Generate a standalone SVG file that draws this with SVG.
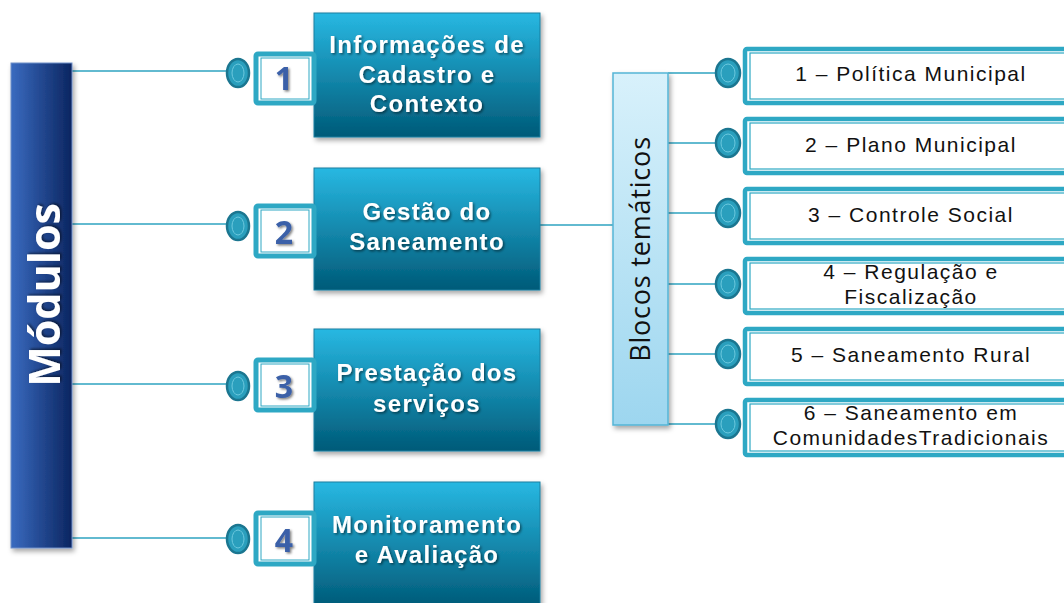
<svg xmlns="http://www.w3.org/2000/svg" width="1064" height="603" viewBox="0 0 1064 603">
<defs>
<linearGradient id="gBar" x1="0" y1="0" x2="1" y2="0"><stop offset="0" stop-color="#3a6bc0"/><stop offset="1" stop-color="#0b2560"/></linearGradient>
<linearGradient id="gMain" x1="0" y1="0" x2="0" y2="1"><stop offset="0" stop-color="#28b8e2"/><stop offset="1" stop-color="#005a78"/></linearGradient>
<linearGradient id="gBlk" x1="0" y1="0" x2="0" y2="1"><stop offset="0" stop-color="#d8f1fb"/><stop offset="1" stop-color="#9dd6ef"/></linearGradient>
<filter id="sh" x="-10%" y="-10%" width="130%" height="130%"><feDropShadow dx="2" dy="3" stdDeviation="2.5" flood-color="#000" flood-opacity="0.35"/></filter>
<filter id="tsh" x="-10%" y="-20%" width="130%" height="150%"><feDropShadow dx="1.5" dy="1.5" stdDeviation="1" flood-color="#000" flood-opacity="0.5"/></filter>
</defs>
<style>
.ln{stroke:#2ea3c0;stroke-width:1.3;fill:none}
.dot{fill:#2a9fbd;stroke:#1b7690;stroke-width:2.5}
.dotin{fill:none;stroke:#6cc8de;stroke-width:1}
.main{fill:url(#gMain);stroke:#1d7fa0;stroke-width:1;filter:url(#sh)}
.mt{font-family:"Liberation Sans",Arial,sans-serif;font-weight:bold;font-size:24px;letter-spacing:1.3px;fill:#fff;text-anchor:middle;filter:url(#tsh)}
.nb{fill:#fff;stroke:#2ea8c4;stroke-width:5}
.nbi{fill:none;stroke:#2ea8c4;stroke-width:1}
.num{font-family:"Open Sans","DejaVu Sans",sans-serif;font-weight:bold;font-size:32px;fill:#3b61a8;text-anchor:middle;filter:url(#tsh)}
.rb{fill:#fff;stroke:#2ea8c4;stroke-width:4.5}
.rbi{fill:none;stroke:#2ea8c4;stroke-width:1.2}
.rt{font-family:"Liberation Sans",Arial,sans-serif;font-size:21px;letter-spacing:1.5px;fill:#111;text-anchor:middle}
</style>
<g id="connectors">
<line class="ln" x1="72" y1="71" x2="226" y2="71"/>
<line class="ln" x1="72" y1="224" x2="226" y2="224"/>
<line class="ln" x1="72" y1="384" x2="226" y2="384"/>
<line class="ln" x1="72" y1="538" x2="226" y2="538"/>
<line class="ln" x1="540" y1="225" x2="613" y2="225"/>
<line class="ln" x1="668" y1="73" x2="716" y2="73"/>
<line class="ln" x1="668" y1="143" x2="716" y2="143"/>
<line class="ln" x1="668" y1="213" x2="716" y2="213"/>
<line class="ln" x1="668" y1="284" x2="716" y2="284"/>
<line class="ln" x1="668" y1="354" x2="716" y2="354"/>
<line class="ln" x1="668" y1="424" x2="716" y2="424"/>
</g>
<g id="modulos">
<rect x="11" y="63" width="61" height="485" fill="url(#gBar)" stroke="#6f8fc8" stroke-width="1" filter="url(#sh)"/>
<text transform="translate(60 295) rotate(-90)" font-family="Open Sans,DejaVu Sans,sans-serif" font-weight="bold" font-size="43" fill="#fff" text-anchor="middle" filter="url(#tsh)">Módulos</text>
</g>
<g id="m1">
<rect class="main" x="314" y="13" width="226" height="124"/>
<text class="mt" x="427" y="53">Informações de</text>
<text class="mt" x="427" y="83">Cadastro e</text>
<text class="mt" x="427" y="112">Contexto</text>
<ellipse class="dot" cx="238" cy="73" rx="11" ry="14"/><ellipse class="dotin" cx="238" cy="73" rx="6" ry="9"/>
<rect class="nb" x="256" y="54" width="58" height="49" rx="2"/><rect class="nbi" x="261" y="58" width="48" height="41"/>
<text class="num" x="284" y="90">1</text>
</g>
<g id="m2">
<rect class="main" x="314" y="168" width="226" height="122"/>
<text class="mt" x="427" y="220">Gestão do</text>
<text class="mt" x="427" y="250">Saneamento</text>
<ellipse class="dot" cx="238" cy="226" rx="11" ry="14"/><ellipse class="dotin" cx="238" cy="226" rx="6" ry="9"/>
<rect class="nb" x="256" y="206" width="58" height="50" rx="2"/><rect class="nbi" x="261" y="210" width="48" height="42"/>
<text class="num" x="284" y="244">2</text>
</g>
<g id="m3">
<rect class="main" x="314" y="329" width="226" height="122"/>
<text class="mt" x="427" y="381">Prestação dos</text>
<text class="mt" x="427" y="412">serviços</text>
<ellipse class="dot" cx="238" cy="386" rx="11" ry="14"/><ellipse class="dotin" cx="238" cy="386" rx="6" ry="9"/>
<rect class="nb" x="256" y="360" width="58" height="50" rx="2"/><rect class="nbi" x="261" y="364" width="48" height="42"/>
<text class="num" x="284" y="398">3</text>
</g>
<g id="m4">
<rect class="main" x="314" y="482" width="226" height="125"/>
<text class="mt" x="427" y="533">Monitoramento</text>
<text class="mt" x="427" y="563">e Avaliação</text>
<ellipse class="dot" cx="238" cy="539" rx="11" ry="14"/><ellipse class="dotin" cx="238" cy="539" rx="6" ry="9"/>
<rect class="nb" x="256" y="513" width="58" height="51" rx="2"/><rect class="nbi" x="261" y="517" width="48" height="43"/>
<text class="num" x="284" y="552">4</text>
</g>
<g id="blocos">
<rect x="613" y="73" width="55" height="352" fill="url(#gBlk)" stroke="#55b5d6" stroke-width="1.5" filter="url(#sh)"/>
<text transform="translate(650 249) rotate(-90)" font-family="Open Sans,DejaVu Sans,sans-serif" font-size="27" letter-spacing="0.8" fill="#111" text-anchor="middle">Blocos temáticos</text>
</g>
<g id="b1">
<ellipse class="dot" cx="728" cy="73" rx="12" ry="14"/><ellipse class="dotin" cx="728" cy="73" rx="7" ry="9"/>
<rect class="rb" x="745" y="49" width="330" height="54" rx="2"/><rect class="rbi" x="750" y="53" width="320" height="46"/>
<text class="rt" x="911" y="81">1 – Política Municipal</text>
</g>
<g id="b2">
<ellipse class="dot" cx="728" cy="143" rx="12" ry="14"/><ellipse class="dotin" cx="728" cy="143" rx="7" ry="9"/>
<rect class="rb" x="745" y="119" width="330" height="54" rx="2"/><rect class="rbi" x="750" y="123" width="320" height="46"/>
<text class="rt" x="911" y="152">2 – Plano Municipal</text>
</g>
<g id="b3">
<ellipse class="dot" cx="728" cy="213" rx="12" ry="14"/><ellipse class="dotin" cx="728" cy="213" rx="7" ry="9"/>
<rect class="rb" x="745" y="189" width="330" height="54" rx="2"/><rect class="rbi" x="750" y="193" width="320" height="46"/>
<text class="rt" x="911" y="222">3 – Controle Social</text>
</g>
<g id="b4">
<ellipse class="dot" cx="728" cy="284" rx="12" ry="14"/><ellipse class="dotin" cx="728" cy="284" rx="7" ry="9"/>
<rect class="rb" x="745" y="259" width="330" height="54" rx="2"/><rect class="rbi" x="750" y="263" width="320" height="46"/>
<text class="rt" x="911" y="279">4 – Regulação e</text>
<text class="rt" x="911" y="304">Fiscalização</text>
</g>
<g id="b5">
<ellipse class="dot" cx="728" cy="354" rx="12" ry="14"/><ellipse class="dotin" cx="728" cy="354" rx="7" ry="9"/>
<rect class="rb" x="745" y="329" width="330" height="55" rx="2"/><rect class="rbi" x="750" y="333" width="320" height="47"/>
<text class="rt" x="911" y="362">5 – Saneamento Rural</text>
</g>
<g id="b6">
<ellipse class="dot" cx="728" cy="424" rx="12" ry="14"/><ellipse class="dotin" cx="728" cy="424" rx="7" ry="9"/>
<rect class="rb" x="745" y="400" width="330" height="55" rx="2"/><rect class="rbi" x="750" y="404" width="320" height="47"/>
<text class="rt" x="911" y="420">6 – Saneamento em</text>
<text class="rt" x="911" y="445">ComunidadesTradicionais</text>
</g>
</svg>
